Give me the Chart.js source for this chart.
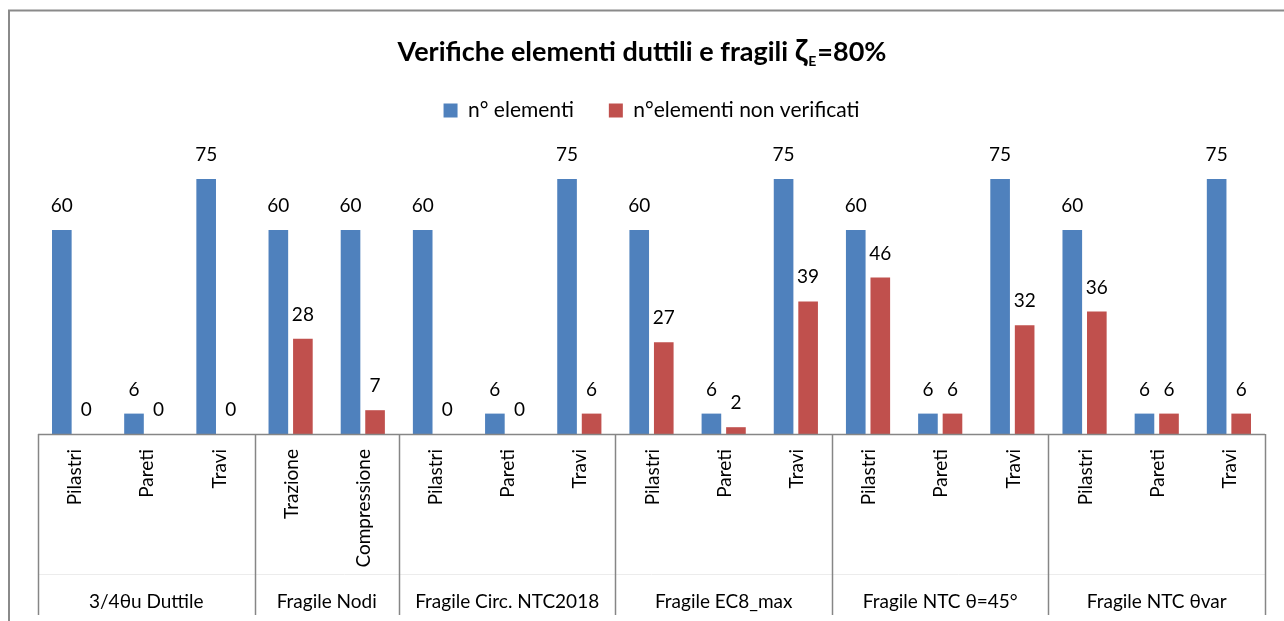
<!DOCTYPE html>
<html>
<head>
<meta charset="utf-8">
<title>Verifiche elementi duttili e fragili</title>
<script src="https://cdn.jsdelivr.net/npm/chart.js@4.4.1/dist/chart.umd.min.js"></script>
<style>
    html, body { margin: 0; padding: 0; background: #fff; }
    #wrap { width: 1284px; height: 621px; }
</style>
</head>
<body>
<div id="wrap"><canvas id="chart" width="1284" height="621"></canvas></div>
<script>
// Sub-categories (bottom level of the axis) and their groups
const subLabels = ['Pilastri', 'Pareti', 'Travi', 'Trazione', 'Compressione',
    'Pilastri', 'Pareti', 'Travi', 'Pilastri', 'Pareti', 'Travi',
    'Pilastri', 'Pareti', 'Travi', 'Pilastri', 'Pareti', 'Travi'];
const groupNames = ['3/4θu Duttile', 'Fragile Nodi', 'Fragile Circ. NTC2018',
    'Fragile EC8_max', 'Fragile NTC θ=45°', 'Fragile NTC θvar'];
const groupSizes = [3, 2, 3, 3, 3, 3];

// Series values
const nElementi = [60, 6, 75, 60, 60, 60, 6, 75, 60, 6, 75, 60, 6, 75, 60, 6, 75];
const nNonVerificati = [0, 0, 0, 28, 7, 0, 0, 6, 27, 2, 39, 46, 6, 32, 36, 6, 6];

const FONT = 'Lato, "Open Sans", sans-serif';
const AXIS_COLOR = '#868686';

// Outer frame + title with subscript
const frameAndTitle = {
    id: 'frameAndTitle',
    beforeDraw(chart) {
        const ctx = chart.ctx;
        ctx.save();
        ctx.strokeStyle = '#8a8a8a';
        ctx.lineWidth = 2;
        ctx.beginPath();
        ctx.moveTo(9, chart.height);
        ctx.lineTo(9, 10.5);
        ctx.lineTo(chart.width, 10.5);
        ctx.stroke();
        ctx.restore();
    },
    afterDraw(chart) {
        const ctx = chart.ctx;
        const main = 'Verifiche elementi duttili e fragili ';
        const tail = '=80%';
        const bigFont = 'bold 27px ' + FONT;
        const zetaFont = 'bold 31px ' + FONT;
        const subFont = 'bold 14px ' + FONT;
        ctx.save();
        ctx.fillStyle = '#000';
        ctx.textBaseline = 'alphabetic';
        ctx.textAlign = 'left';
        ctx.font = bigFont;
        const wMain = ctx.measureText(main).width;
        const wTail = ctx.measureText(tail).width;
        ctx.font = zetaFont;
        const wZeta = ctx.measureText('ζ').width;
        ctx.font = subFont;
        const wSub = ctx.measureText('E').width;
        const total = wMain + wZeta + wSub + 2 + wTail;
        let x = 642 - total / 2;
        const y = 61;
        ctx.font = bigFont;
        ctx.fillText(main, x, y); x += wMain;
        ctx.font = zetaFont;
        ctx.fillText('ζ', x, y); x += wZeta + 1;
        ctx.font = subFont;
        ctx.fillText('E', x, y + 5); x += wSub + 1;
        ctx.font = bigFont;
        ctx.fillText(tail, x, y);
        ctx.restore();
    }
};

// Value labels above each bar
const valueLabels = {
    id: 'valueLabels',
    afterDatasetsDraw(chart) {
        const ctx = chart.ctx;
        ctx.save();
        ctx.font = '19px ' + FONT;
        ctx.fillStyle = '#000';
        ctx.textAlign = 'center';
        ctx.textBaseline = 'alphabetic';
        chart.data.datasets.forEach((ds, di) => {
            chart.getDatasetMeta(di).data.forEach((bar, i) => {
                ctx.fillText(String(ds.data[i]), bar.x, bar.y - 18);
            });
        });
        ctx.restore();
    }
};

// Two-level category axis (Excel style)
const groupedAxis = {
    id: 'groupedAxis',
    afterDraw(chart) {
        const { ctx, chartArea } = chart;
        const xs = chart.scales.x;
        const y0 = chartArea.bottom;
        const yEnd = y0 + 181;

        ctx.save();
        // faint divider between the two label rows
        ctx.strokeStyle = '#ececec';
        ctx.lineWidth = 1;
        ctx.beginPath();
        ctx.moveTo(chartArea.left, y0 + 140.5);
        ctx.lineTo(chartArea.right, y0 + 140.5);
        ctx.stroke();

        // axis line
        ctx.strokeStyle = AXIS_COLOR;
        ctx.lineWidth = 1.5;
        ctx.beginPath();
        ctx.moveTo(chartArea.left, y0 + 0.5);
        ctx.lineTo(chartArea.right, y0 + 0.5);
        ctx.stroke();

        // group separators
        let start = 0;
        const edges = [0];
        groupSizes.forEach(n => { start += n; edges.push(start); });
        edges.forEach(e => {
            const px = Math.round(xs.getPixelForValue(e - 0.5)) + 0.5;
            ctx.beginPath();
            ctx.moveTo(px, y0);
            ctx.lineTo(px, yEnd);
            ctx.stroke();
        });

        ctx.fillStyle = '#000';
        ctx.font = '19px ' + FONT;

        // rotated sub labels
        subLabels.forEach((label, i) => {
            const px = xs.getPixelForValue(i);
            ctx.save();
            ctx.translate(px + 1, y0 + 15);
            ctx.rotate(-Math.PI / 2);
            ctx.textAlign = 'right';
            ctx.textBaseline = 'middle';
            ctx.fillText(label, 0, 0);
            ctx.restore();
        });

        // group labels
        ctx.textAlign = 'center';
        ctx.textBaseline = 'middle';
        for (let g = 0; g < groupNames.length; g++) {
            const left = xs.getPixelForValue(edges[g] - 0.5);
            const right = xs.getPixelForValue(edges[g + 1] - 0.5);
            ctx.fillText(groupNames[g], (left + right) / 2, y0 + 168);
        }
        ctx.restore();
    }
};

// Extra room under the legend
const legendSpacing = {
    id: 'legendSpacing',
    beforeInit(chart) {
        const originalFit = chart.legend.fit;
        chart.legend.fit = function fit() {
            originalFit.bind(chart.legend)();
            this.height += 31;
        };
    }
};

const ctx = document.getElementById('chart').getContext('2d');
new Chart(ctx, {
    type: 'bar',
    data: {
        labels: subLabels,
        datasets: [
            {
                label: 'n° elementi',
                data: nElementi,
                backgroundColor: '#4F81BD',
                borderWidth: 0
            },
            {
                label: 'n°elementi non verificati',
                data: nNonVerificati,
                backgroundColor: '#C0504D',
                borderWidth: 0
            }
        ]
    },
    options: {
        responsive: false,
        devicePixelRatio: 1,
        animation: false,
        categoryPercentage: 0.68,
        barPercentage: 0.8,
        layout: {
            padding: { top: 65, left: 38, right: 19, bottom: 187 }
        },
        plugins: {
            title: { display: false },
            tooltip: { enabled: false },
            legend: {
                position: 'top',
                labels: {
                    boxWidth: 14,
                    boxHeight: 14,
                    padding: 35,
                    color: '#000',
                    font: { family: FONT, size: 21 }
                }
            }
        },
        scales: {
            x: { display: false },
            y: { display: false, min: 0, max: 80 }
        }
    },
    plugins: [legendSpacing, frameAndTitle, valueLabels, groupedAxis]
});
</script>
</body>
</html>
